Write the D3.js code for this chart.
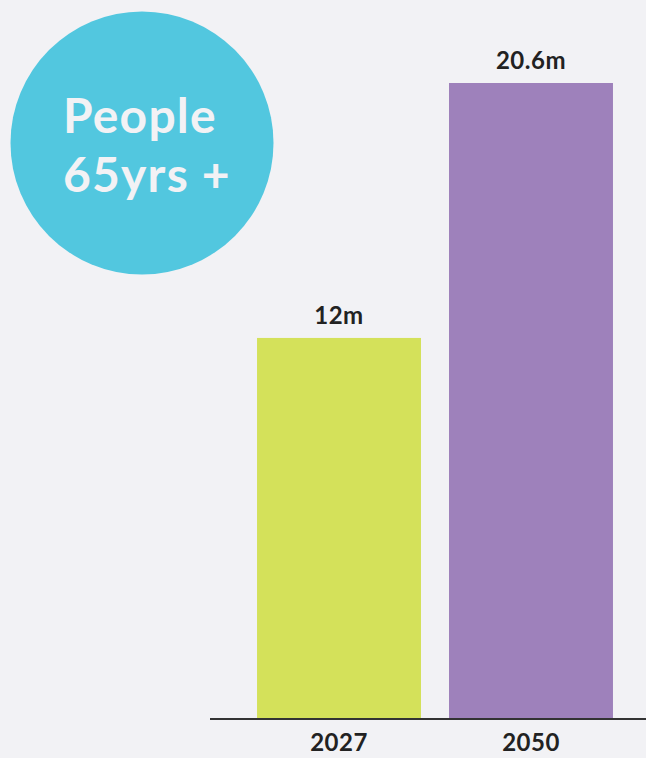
<!DOCTYPE html>
<html>
<head>
<meta charset="utf-8">
<script src="https://cdn.jsdelivr.net/npm/d3@7"></script>
<style>
  html, body { margin: 0; padding: 0; background: #f2f2f5; }
  svg { display: block; }
</style>
</head>
<body>
<svg width="646" height="758"></svg>
<script>
// Data
let years = ["2027", "2050"];
let values = [12, 20.6];
let valueLabels = ["12m", "20.6m"];
let barColors = ["#d4e15a", "#9e81bb"];
let badgeLines = ["People", "65yrs +"];

// The svg
let svg = d3.select("svg"),
    width = +svg.attr("width"),
    height = +svg.attr("height");

let baseY = 718;

// Scales
let x = d3.scaleBand()
    .domain(years)
    .range([229, 641])
    .paddingInner(0.146)
    .paddingOuter(0.146);

let y = d3.scaleLinear()
    .domain([-0.82, 20.6])
    .range([baseY, 83]);

// Badge
svg.append("circle")
    .attr("cx", 142)
    .attr("cy", 143)
    .attr("r", 131.5)
    .attr("fill", "#52c7df");

svg.append("g")
    .selectAll("text")
    .data(badgeLines)
    .enter().append("text")
    .attr("x", 63)
    .attr("y", (d, i) => 133 + i * 59)
    .attr("fill", "#f2f2f5")
    .style("font-family", "Lato, sans-serif")
    .style("font-weight", "bold")
    .style("font-size", "48px")
    .style("letter-spacing", "1.2px")
    .text(d => d);

// Bars
let bars = svg.append("g");
bars.selectAll("rect")
    .data(values)
    .enter().append("rect")
    .attr("x", (d, i) => x(years[i]))
    .attr("y", d => y(d))
    .attr("width", x.bandwidth())
    .attr("height", d => baseY - y(d))
    .attr("fill", (d, i) => barColors[i]);

// Value labels
bars.selectAll("text")
    .data(values)
    .enter().append("text")
    .attr("x", (d, i) => x(years[i]) + x.bandwidth() / 2)
    .attr("y", d => y(d) - 14)
    .attr("text-anchor", "middle")
    .attr("fill", "#222")
    .style("font-family", "Lato, sans-serif")
    .style("font-weight", "bold")
    .style("font-size", "24px")
    .style("letter-spacing", "0.5px")
    .text((d, i) => valueLabels[i]);

// Axis
let axis = svg.append("g")
    .attr("transform", `translate(0,${baseY})`)
    .call(d3.axisBottom(x).tickSize(0).tickPadding(16));
axis.select(".domain").remove();
axis.append("line")
    .attr("x1", 210)
    .attr("x2", width)
    .attr("y1", 1)
    .attr("y2", 1)
    .attr("stroke", "#333")
    .attr("stroke-width", 2);
axis.selectAll(".tick text")
    .attr("fill", "#222")
    .style("font-family", "Lato, sans-serif")
    .style("font-weight", "bold")
    .style("font-size", "24px")
    .style("letter-spacing", "0.5px");
</script>
</body>
</html>
